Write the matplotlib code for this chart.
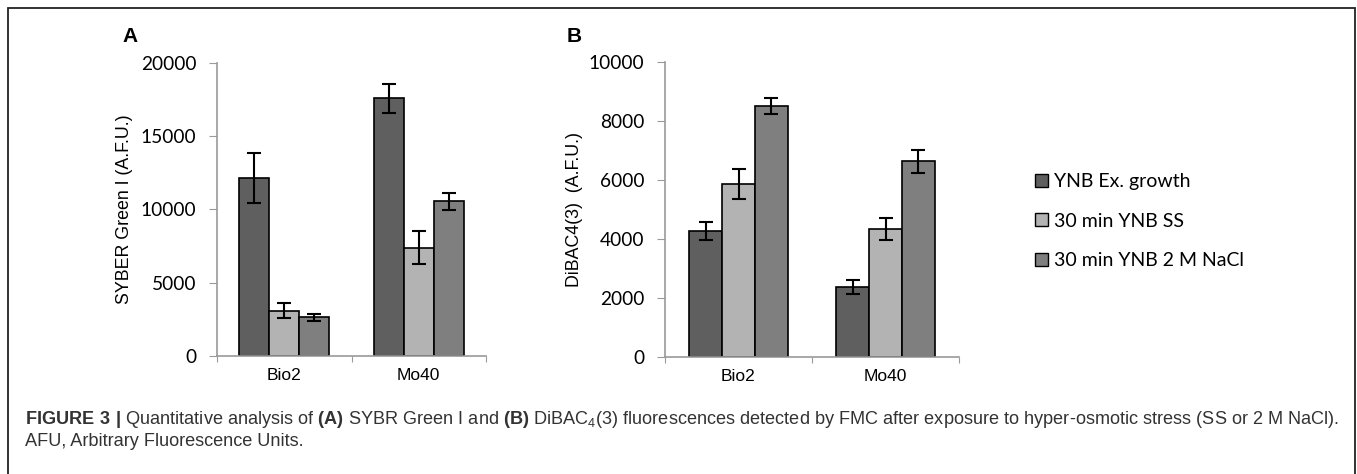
import matplotlib
matplotlib.use("Agg")
import matplotlib.pyplot as plt
from matplotlib.patches import Patch, Rectangle
import numpy as np

plt.rcParams['mathtext.fontset'] = 'custom'
plt.rcParams['mathtext.rm'] = 'Liberation Sans'
plt.rcParams['mathtext.bf'] = 'Liberation Sans:bold'

# data
strains = ["Bio2", "Mo40"]
conditions = ["YNB Ex. growth", "30 min YNB SS", "30 min YNB 2 M NaCl"]

sybr_vals = [[12150, 17600],   # YNB Ex. growth
             [3100, 7400],     # 30 min YNB SS
             [2650, 10550]]    # 30 min YNB 2 M NaCl
sybr_err = [[1730, 1000],
            [520, 1150],
            [250, 600]]

dibac_vals = [[4250, 2370],
              [5850, 4330],
              [8500, 6630]]
dibac_err = [[300, 240],
             [500, 370],
             [260, 390]]

sybr_ticks = [0, 5000, 10000, 15000, 20000]
dibac_ticks = [0, 2000, 4000, 6000, 8000, 10000]

colors = ["#5f5f5f", "#b3b3b3", "#7f7f7f"]
spine_c = "#9a9a9a"

W, H = 1357, 474
fig = plt.figure(figsize=(W / 100, H / 100), dpi=100)


def px_box(x0, y0, x1, y1):
    # pixel coords (top-left origin) -> figure fraction rect
    return [x0 / W, 1 - y1 / H, (x1 - x0) / W, (y1 - y0) / H]


def draw_panel(ax, vals, errs, ticks, ylabel, label_x):
    bw = 0.223
    centers = np.arange(len(strains)) + 0.5
    for i, (v, e) in enumerate(zip(vals, errs)):
        ax.bar(centers + (i - 1) * bw, v, width=bw, color=colors[i],
               edgecolor="black", linewidth=1.2, zorder=2,
               yerr=e, error_kw=dict(ecolor="black", elinewidth=1.5,
                                     capsize=5, capthick=1.5, zorder=3))
    ax.set_xlim(0, len(strains))
    ax.set_ylim(ticks[0], ticks[-1])
    ax.set_yticks(ticks)
    ax.set_yticklabels([str(t) for t in ticks], fontfamily="Lato", fontsize=13.8)
    ax.set_xticks(np.arange(len(strains) + 1))
    ax.set_xticklabels([])
    ax.set_xticks(centers, minor=True)
    ax.set_xticklabels(strains, minor=True, fontfamily="Liberation Sans", fontsize=12.5)
    ax.tick_params(axis="x", which="major", length=4, color=spine_c, direction="out")
    ax.tick_params(axis="x", which="minor", length=0, pad=9)
    ax.tick_params(axis="y", length=6, color=spine_c, pad=9)
    for s in ["top", "right"]:
        ax.spines[s].set_visible(False)
    for s in ["left", "bottom"]:
        ax.spines[s].set_color(spine_c)
        ax.spines[s].set_linewidth(1.2)
    ax.set_ylabel(ylabel, fontfamily="Liberation Sans", fontsize=12.8)
    ax.yaxis.set_label_coords(label_x, 0.5)


axA = fig.add_axes(px_box(217, 63, 486, 356))
draw_panel(axA, sybr_vals, sybr_err, sybr_ticks, "SYBER Green I (A.F.U.)", -0.312)

axB = fig.add_axes(px_box(665, 61.7, 959, 356.7))
draw_panel(axB, dibac_vals, dibac_err, dibac_ticks, "DiBAC4(3)  (A.F.U.)", -0.279)

fig.text(122 / W, 1 - 36 / H, "A", fontfamily="Liberation Sans", fontweight="bold",
         fontsize=15, va="center", ha="left")
fig.text(567 / W, 1 - 36 / H, "B", fontfamily="Liberation Sans", fontweight="bold",
         fontsize=15, va="center", ha="left")

handles = [Patch(facecolor=c, edgecolor="black", linewidth=1.0) for c in colors]
fig.legend(handles, conditions, loc="upper left", bbox_to_anchor=(1035 / W, 1 - 173 / H),
           frameon=False, borderpad=0, borderaxespad=0, handlelength=0.68,
           handleheight=0.68, handletextpad=0.3, labelspacing=1.16,
           prop=dict(family="Lato", size=14))

# outer frame around the chart area
fig.patches.append(Rectangle((8 / W, -0.05), (1355 - 8) / W, 1.05 - 8 / H,
                             transform=fig.transFigure, fill=False,
                             edgecolor="#222222", linewidth=1.3))

cap_c = "#333333"
fig.text(25 / W, 1 - 420 / H,
         r"$\mathbf{FIGURE\ 3\ |}$ Quantitative analysis of $\mathbf{(A)}$ SYBR Green I and "
         r"$\mathbf{(B)}$ DiBAC$_4$(3) fluorescences detected by FMC after exposure to "
         r"hyper-osmotic stress (SS or 2 M NaCl).",
         fontfamily="Liberation Sans", fontsize=13.1, color=cap_c, va="center", ha="left")
fig.text(25 / W, 1 - 442 / H, "AFU, Arbitrary Fluorescence Units.",
         fontfamily="Liberation Sans", fontsize=13.1, color=cap_c, va="center", ha="left")

fig.savefig("out.png", dpi=100)
